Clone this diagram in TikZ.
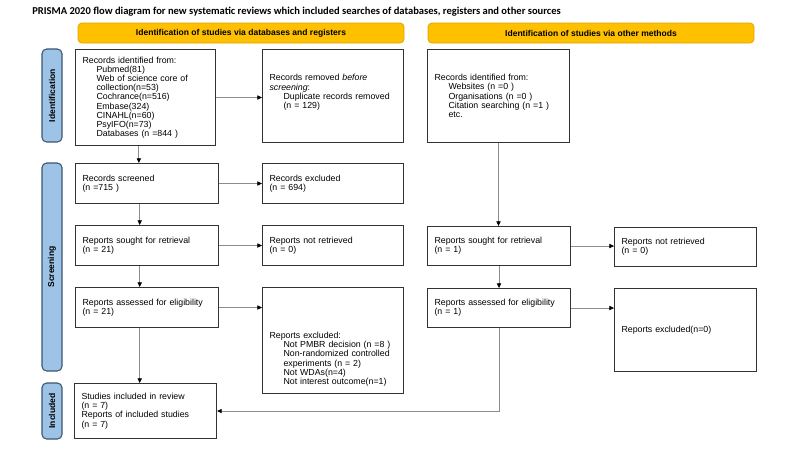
\documentclass[tikz,border=0pt]{standalone}
\usepackage{fontspec}
\setmainfont{Liberation Sans}
\newfontfamily\titlefont{Carlito}
\usetikzlibrary{arrows.meta}
\definecolor{hdrYellow}{RGB}{255,192,0}
\definecolor{hdrEdge}{RGB}{220,165,0}
\definecolor{sideBlue}{RGB}{157,195,230}
\definecolor{sideEdge}{RGB}{60,85,115}
\newcommand{\ind}{\hspace*{10.5pt}}
\tikzset{
	flowbox/.style={draw=black!80, line width=0.8pt, fill=white, anchor=north west, align=left, inner xsep=5.25pt, inner ysep=0pt, font=\fontsize{6.6pt}{6.9pt}\selectfont},
	hdr/.style={draw=hdrEdge, fill=hdrYellow, rounded corners=3pt, line width=0.6pt, font=\fontsize{6.4pt}{7pt}\selectfont\bfseries, minimum height=15pt, inner sep=0pt},
	side/.style={draw=sideEdge, fill=sideBlue, rounded corners=3.5pt, line width=0.8pt, rotate=90, font=\fontsize{6.4pt}{7pt}\selectfont\bfseries, minimum height=15pt, inner sep=0pt},
	arr/.style={draw=black!45, line width=0.6pt, -{Triangle[black, length=3.5pt, width=3.2pt]}}
}
\begin{document}
\begin{tikzpicture}[x=0.75pt,y=0.75pt,yscale=-1,xscale=1]
	\useasboundingbox (0,0) rectangle (800,451);
	\node [anchor=west, inner sep=0pt, font=\fontsize{7.9pt}{8.3pt}\selectfont\titlefont\bfseries] (title) at (32,12) {PRISMA 2020 flow diagram for new systematic reviews which included searches of databases, registers and other sources};
	\node [hdr, minimum width=244.5pt] (hdrDb) at (241,33) {Identification of studies via databases and registers};
	\node [hdr, minimum width=244.5pt] (hdrOth) at (591,33) {Identification of studies via other methods};
	\node [side, minimum width=69.75pt] (sideId) at (52,95.5) {Identification};
	\node [side, minimum width=156pt] (sideScr) at (52,267) {Screening};
	\node [side, minimum width=42pt] (sideInc) at (52,411) {Included};
	\node [flowbox, text width=94.5pt, minimum height=72pt] (recId) at (75,49) {Records identified from:\\\ind Pubmed(81)\\\ind Web of science core of\\\ind collection(n=53)\\\ind Cochrance(n=516)\\\ind Embase(324)\\\ind CINAHL(n=60)\\\ind PsyIFO(n=73)\\\ind Databases (n =844 )};
	\node [flowbox, text width=95.25pt, minimum height=69.75pt] (recRem) at (262,49) {Records removed \emph{before}\\\emph{screening}:\\\ind Duplicate records removed\\\ind (n = 129)\\\mbox{}};
	\node [flowbox, text width=96.75pt, minimum height=30pt] (screened) at (75,163) {Records screened\\(n =715 )};
	\node [flowbox, text width=95.25pt, minimum height=30pt] (recExc) at (262,163) {Records excluded\\(n = 694)};
	\node [flowbox, text width=96.75pt, minimum height=30pt] (sought) at (75,225) {Reports sought for retrieval\\(n = 21)};
	\node [flowbox, text width=95.25pt, minimum height=30pt] (notRet) at (262,225) {Reports not retrieved\\(n = 0)};
	\node [flowbox, text width=96.75pt, minimum height=30pt] (assessed) at (75,287) {Reports assessed for eligibility\\(n = 21)};
	\node [flowbox, text width=95.25pt, minimum height=79.5pt] (repExc) at (262,287) {\mbox{}\\[26pt]Reports excluded:\\\ind Not PMBR decision (n =8 )\\\ind Non-randomized controlled\\\ind experiments (n = 2)\\\ind Not WDAs(n=4)\\\ind Not interest outcome(n=1)};
	\node [flowbox, text width=96pt, minimum height=41.25pt] (included) at (74,383) {Studies included in review\\(n = 7)\\Reports of included studies\\(n = 7)};
	\node [flowbox, text width=96pt, minimum height=69.75pt] (othId) at (427,49) {Records identified from:\\\ind Websites (n =0 )\\\ind Organisations (n =0 )\\\ind Citation searching (n =1 )\\\ind etc.};
	\node [flowbox, text width=96.75pt, minimum height=29.25pt] (othSought) at (427,226) {Reports sought for retrieval\\(n = 1)};
	\node [flowbox, text width=96pt, minimum height=29.25pt] (othNotRet) at (614,227) {Reports not retrieved\\(n = 0)};
	\node [flowbox, text width=96.75pt, minimum height=29.25pt] (othAss) at (427,288) {Reports assessed for eligibility\\(n = 1)};
	\node [flowbox, text width=96pt, minimum height=62.25pt] (othExc) at (614,288) {Reports excluded(n=0)};
	\draw [arr] (recId.east) -- (recId.east -| recRem.west);
	\draw [arr] ([xshift=-5pt]recId.south) -- ([xshift=-5pt]recId.south |- screened.north);
	\draw [arr] (screened.east) -- (recExc.west);
	\draw [arr] ([xshift=-5.5pt]screened.south) -- ([xshift=-5.5pt]sought.north);
	\draw [arr] (sought.east) -- (notRet.west);
	\draw [arr] ([xshift=-5.5pt]sought.south) -- ([xshift=-5.5pt]assessed.north);
	\draw [arr] (assessed.east) -- (assessed.east -| repExc.west);
	\draw [arr] ([xshift=-5.5pt]assessed.south) -- ([xshift=-5.5pt]assessed.south |- included.north);
	\draw [arr] (othId.south) -- (othId.south |- othSought.north);
	\draw [arr] (othSought.east) -- (othSought.east -| othNotRet.west);
	\draw [arr] (othSought.south) -- (othAss.north);
	\draw [arr] (othAss.east) -- (othAss.east -| othExc.west);
	\draw [arr] (othAss.south) |- (included.east);
\end{tikzpicture}
\end{document}
